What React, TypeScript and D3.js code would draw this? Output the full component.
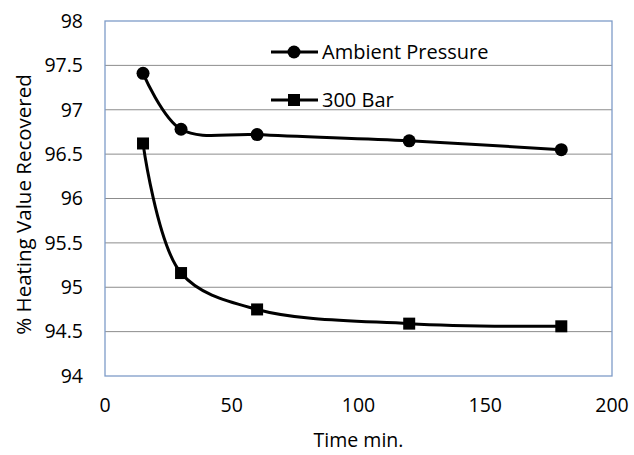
import React from "react";
import * as d3 from "d3";

const times = [15, 30, 60, 120, 180];
const ambientPressure = [97.41, 96.78, 96.72, 96.65, 96.55];
const bar300 = [96.62, 95.16, 94.75, 94.59, 94.56];
const xTicks = [0, 50, 100, 150, 200];
const yTicks = [94, 94.5, 95, 95.5, 96, 96.5, 97, 97.5, 98];

const W = 634;
const H = 455;
const m = { left: 105, right: 22, top: 21, bottom: 79 };
const FONT = "'Open Sans', 'Noto Sans', sans-serif";

export default function App() {
  const x = d3.scaleLinear().domain([0, 200]).range([m.left, W - m.right]);
  const y = d3.scaleLinear().domain([94, 98]).range([H - m.bottom, m.top]);

  const line = d3
    .line<number>()
    .x((_, i) => x(times[i]))
    .y((d) => y(d))
    .curve(d3.curveCatmullRom.alpha(0.5));

  const series = [
    { name: "Ambient Pressure", values: ambientPressure, shape: "circle" },
    { name: "300 Bar", values: bar300, shape: "square" },
  ];

  const marker = (shape: string, cx: number, cy: number, key: string | number) =>
    shape === "circle" ? (
      <circle key={key} cx={cx} cy={cy} r={6.5} fill="#000" />
    ) : (
      <rect key={key} x={cx - 6} y={cy - 6} width={12} height={12} fill="#000" />
    );

  return (
    <svg width={W} height={H} style={{ position: "absolute", left: 0, top: 0 }}>
      <rect width={W} height={H} fill="#fff" />
      {/* gridlines */}
      {yTicks.slice(1, -1).map((t) => (
        <line key={t} x1={x(0)} x2={x(200)} y1={y(t)} y2={y(t)} stroke="#8c8c8c" strokeWidth={1} />
      ))}
      <rect
        x={x(0)}
        y={y(98)}
        width={x(200) - x(0)}
        height={y(94) - y(98)}
        fill="none"
        stroke="#7e9cc8"
        strokeWidth={1.3}
      />
      {/* y tick labels */}
      {yTicks.map((t) => (
        <text key={t} x={x(0) - 22} y={y(t)} dy="0.35em" textAnchor="end" fontFamily={FONT} fontSize={19.5} fill="#000">
          {t}
        </text>
      ))}
      {xTicks.map((t) => (
        <text key={t} x={x(t)} y={y(94) + 36} textAnchor="middle" fontFamily={FONT} fontSize={19.5} fill="#000">
          {t}
        </text>
      ))}
      <text x={(x(0) + x(200)) / 2} y={H - 8} textAnchor="middle" fontFamily={FONT} fontSize={19.5} fill="#000">
        Time min.
      </text>
      <text
        transform={`translate(24,${(y(94) + y(98)) / 2 + 6}) rotate(-90)`}
        textAnchor="middle"
        dy="0.35em"
        fontFamily={FONT}
        fontSize={20.5}
        fill="#000"
      >
        % Heating Value Recovered
      </text>
      {series.map((s) => (
        <g key={s.name}>
          <path d={line(s.values) ?? ""} fill="none" stroke="#000" strokeWidth={3} />
          {s.values.map((v, i) => marker(s.shape, x(times[i]), y(v), i))}
        </g>
      ))}
      {/* legend */}
      {series.map((s, i) => {
        const ly = 52 + i * 48;
        return (
          <g key={s.name}>
            <line x1={271} x2={318} y1={ly} y2={ly} stroke="#000" strokeWidth={3} />
            {marker(s.shape, 294, ly, "m")}
            <text x={322} y={ly} dy="0.35em" fontFamily={FONT} fontSize={20} fill="#000">
              {s.name}
            </text>
          </g>
        );
      })}
    </svg>
  );
}
